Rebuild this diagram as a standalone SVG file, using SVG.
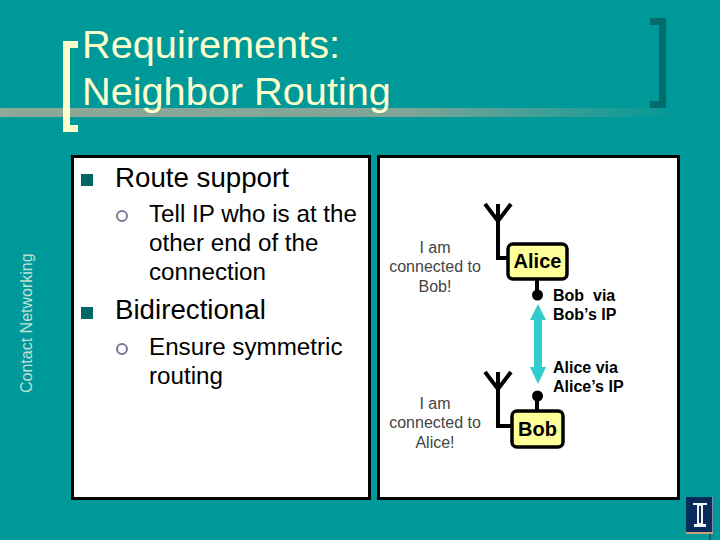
<svg xmlns="http://www.w3.org/2000/svg" width="720" height="540" viewBox="0 0 720 540">
<defs>
<linearGradient id="rule" x1="0" x2="1" y1="0" y2="0"><stop offset="0" stop-color="#8fa898"/><stop offset="0.6" stop-color="#7fa598"/><stop offset="0.95" stop-color="#0f9a96"/><stop offset="1" stop-color="#009999"/></linearGradient>
</defs>
<style>
text{font-family:"Liberation Sans",Arial,sans-serif}
.t{fill:#ffffcc;font-size:39.700px}
.b1{font-size:27.700px;fill:#000}
.b2{font-size:24.200px;fill:#000}
.n{font-size:16px;fill:#444;text-anchor:middle}
.l{font-size:16px;font-weight:bold;fill:#000}
.nm{font-size:20px;font-weight:bold;fill:#000;text-anchor:middle}
.sq{fill:#006666}
.ci{fill:none;stroke:#77779a;stroke-width:2}
.box{fill:#ffff99;stroke:#000;stroke-width:3.500}
.w{fill:none;stroke:#000;stroke-width:4}
</style>
<rect width="720" height="540" fill="#009999"/>
<rect x="0" y="108" width="680" height="9" fill="url(#rule)"/>
<path d="M78 41H63V132H78V125H70V48H78Z" fill="#ffffcc"/>
<path d="M650 18H666V108H650V101H659V25H650Z" fill="#006c6c"/>
<text class="t" x="82" y="58">Requirements:</text>
<text class="t" x="82" y="105">Neighbor Routing</text>
<text transform="translate(32,393) rotate(-90)" font-size="16" fill="#bfe2d6">Contact Networking</text>
<g id="left-panel">
<rect x="72.500" y="156.500" width="297" height="342" fill="#fff" stroke="#000" stroke-width="3"/>
<rect class="sq" x="81" y="174" width="12" height="12"/>
<text class="b1" x="115" y="187">Route support</text>
<circle class="ci" cx="122" cy="216" r="5"/>
<text class="b2" x="149" y="222">Tell IP who is at the</text>
<text class="b2" x="149" y="251">other end of the</text>
<text class="b2" x="149" y="280">connection</text>
<rect class="sq" x="81" y="307" width="12" height="12"/>
<text class="b1" x="115" y="319">Bidirectional</text>
<circle class="ci" cx="122" cy="349" r="5"/>
<text class="b2" x="149" y="355">Ensure symmetric</text>
<text class="b2" x="149" y="384">routing</text>
</g>
<g id="right-panel">
<rect x="378.500" y="156.500" width="300" height="342" fill="#fff" stroke="#000" stroke-width="3"/>
</g>
<g id="connectors">
<path class="w" d="M485 204L498 221L511 204M498 204V258H510"/>
<path class="w" d="M485 372L498 389L511 372M498 372V426H513"/>
<path d="M537 279V292M537 398V412" fill="none" stroke="#000" stroke-width="4"/>
<circle cx="537.500" cy="295" r="5.500"/>
<circle cx="537.500" cy="396" r="5.500"/>
<path d="M538 304L546 320H542V367H546L538 384L530 367H534V320H530Z" fill="#33cccc"/>
</g>
<g id="alice">
<rect class="box" x="508" y="244" width="59" height="35" rx="5"/>
<text class="nm" x="537.500" y="268">Alice</text>
</g>
<g id="bob">
<rect class="box" x="512" y="411" width="51" height="36" rx="5"/>
<text class="nm" x="537.500" y="436">Bob</text>
</g>
<g id="labels">
<text class="n" x="435" y="253">I am</text>
<text class="n" x="435" y="272">connected to</text>
<text class="n" x="435" y="292">Bob!</text>
<text class="n" x="435" y="409">I am</text>
<text class="n" x="435" y="428">connected to</text>
<text class="n" x="435" y="448">Alice!</text>
<text class="l" x="553" y="301" xml:space="preserve">Bob  via</text>
<text class="l" x="553" y="320">Bob’s IP</text>
<text class="l" x="553" y="373">Alice via</text>
<text class="l" x="553" y="392">Alice’s IP</text>
</g>
<g id="logo">
<rect x="686" y="497" width="27" height="36" fill="#0b2a5c"/>
<path d="M686 532H713V534H686Z" fill="#c9a27a"/>
<path d="M712 497H713V532H712Z" fill="#7f8fa6"/>
<path d="M693 503H707V505H703V524H706V527H694V524H697V505H693Z" fill="#eef3f6"/>
<path d="M700 506V523" stroke="#0b2a5c" stroke-width="2"/>
<path d="M709 534H711V540H709Z" fill="#0b5a6c"/>
</g>
</svg>
